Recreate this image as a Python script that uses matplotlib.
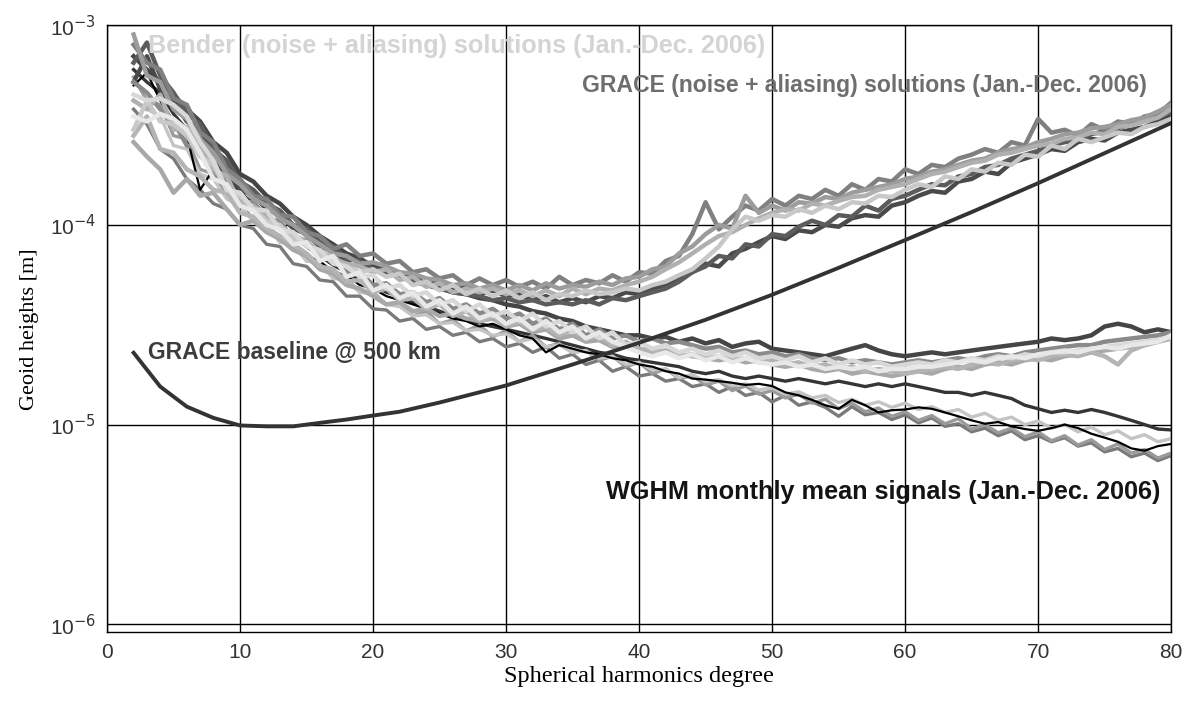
import numpy as np
import matplotlib.pyplot as plt

# spherical harmonic degrees 2..80
degree = list(range(2, 81))

# degree amplitudes in micrometres (1e-6 m)
grace_1 = [520, 700, 480, 420, 330, 300, 220, 200, 150, 140,
           120, 112, 96, 90, 78, 74, 66, 68, 60, 62,
           55, 56, 50, 52, 47, 49, 45, 47, 44, 45,
           42, 44, 41, 43, 41, 44, 43, 46, 45, 48,
           50, 55, 58, 64, 62, 72, 76, 82, 88, 85,
           94, 92, 100, 98, 108, 112, 110, 125, 130, 140,
           148, 145, 165, 170, 185, 180, 205, 215, 225, 240,
           235, 260, 270, 265, 290, 300, 310, 330, 350]
grace_2 = [800, 650, 600, 430, 400, 290, 260, 190, 170, 140,
           135, 112, 110, 92, 88, 76, 80, 70, 72, 64,
           66, 58, 60, 54, 56, 50, 54, 50, 53, 49,
           52, 48, 55, 50, 53, 51, 56, 52, 58, 57,
           66, 70, 90, 130, 95, 110, 125, 118, 135, 125,
           140, 135, 150, 140, 160, 150, 170, 165, 190, 180,
           200, 195, 215, 225, 240, 230, 260, 250, 340, 290,
           300, 280, 320, 300, 330, 320, 350, 360, 410]
grace_3 = [300, 420, 330, 320, 280, 220, 200, 150, 140, 120,
           105, 100, 85, 80, 70, 66, 62, 58, 60, 55,
           57, 50, 52, 47, 50, 45, 48, 44, 47, 43,
           46, 42, 45, 44, 47, 45, 46, 48, 47, 50,
           52, 56, 60, 68, 78, 95, 110, 105, 112, 110,
           120, 115, 125, 120, 130, 128, 140, 138, 150, 160,
           155, 175, 170, 190, 185, 205, 200, 225, 220, 250,
           240, 270, 260, 275, 290, 285, 310, 320, 340]
grace_4 = [900, 560, 520, 380, 340, 270, 230, 180, 160, 135,
           125, 108, 100, 88, 80, 72, 70, 64, 65, 62,
           58, 57, 54, 53, 50, 51, 48, 50, 47, 50,
           47, 51, 48, 50, 49, 52, 50, 54, 55, 60,
           62, 72, 78, 90, 100, 96, 140, 115, 125, 118,
           130, 128, 138, 135, 145, 150, 155, 160, 170, 175,
           185, 190, 200, 210, 215, 230, 240, 245, 260, 270,
           285, 290, 305, 310, 320, 335, 345, 370, 400]
grace_5 = [650, 820, 560, 460, 360, 320, 240, 210, 165, 150,
           128, 118, 100, 96, 82, 78, 68, 66, 60, 58,
           55, 52, 50, 48, 46, 45, 44, 42, 43, 41,
           42, 40, 41, 40, 42, 40, 43, 42, 44, 46,
           48, 52, 58, 62, 70, 68, 80, 78, 90, 88,
           98, 105, 100, 112, 110, 125, 118, 135, 140, 150,
           160, 158, 175, 180, 195, 200, 215, 225, 235, 250,
           260, 265, 285, 295, 305, 320, 335, 345, 370]
grace_6 = [420, 380, 450, 300, 310, 240, 190, 175, 130, 125,
           110, 98, 90, 82, 74, 68, 64, 62, 58, 60,
           53, 55, 49, 51, 46, 48, 46, 48, 45, 47,
           44, 47, 44, 48, 45, 48, 47, 50, 52, 55,
           60, 65, 72, 80, 88, 92, 100, 108, 115, 120,
           118, 128, 125, 132, 138, 140, 150, 155, 160, 170,
           180, 185, 195, 205, 210, 225, 230, 240, 250, 255,
           270, 275, 290, 285, 310, 315, 330, 345, 380]

bender_1 = [450, 420, 430, 400, 350, 260, 210, 150, 145, 120,
            118, 95, 92, 78, 75, 64, 62, 55, 56, 48,
            50, 44, 46, 40, 42, 37, 40, 35, 37, 33,
            36, 31, 33, 29, 31, 27, 29, 25, 26, 24,
            25, 23, 24, 22.5, 23.5, 22, 23, 21.5, 22, 21,
            22, 20.5, 21.5, 20, 21, 20, 20.5, 19.5, 20, 20.5,
            20, 21, 20.5, 21.5, 21, 22, 21.5, 22.5, 22, 23,
            23, 23.5, 24, 24.5, 25, 25.5, 26, 26.5, 27.5]
bender_2 = [700, 600, 520, 450, 380, 330, 260, 230, 180, 165,
            140, 128, 110, 100, 88, 80, 72, 68, 62, 60,
            56, 54, 50, 49, 46, 45, 43, 42, 40, 39,
            37, 36, 34, 33, 31, 30, 29, 28, 28, 27,
            27.5, 26, 27, 25.5, 26.5, 24.5, 25.5, 26, 24, 23.5,
            23, 22.5, 22, 23, 24, 25, 23.5, 22.5, 22, 22.5,
            23, 22.5, 23, 23.5, 24, 24.5, 25, 25.5, 26, 27,
            26.5, 27, 28, 31, 32, 31, 29, 30, 29]
bender_3 = [280, 350, 240, 230, 190, 175, 150, 145, 115, 110,
            96, 88, 80, 72, 62, 60, 52, 53, 46, 48,
            42, 43, 38, 40, 35, 37, 33, 35, 31, 33,
            30, 31, 28, 30, 27, 28, 25, 26, 24, 23.5,
            23, 22.5, 22, 21.5, 22, 21, 21.5, 20.5, 21, 20,
            20.5, 19.5, 20, 19, 19.5, 18.5, 19, 18.5, 18, 18.5,
            19, 19.5, 19, 20, 20.5, 20, 21, 21.5, 21, 22,
            22.5, 22, 23, 22, 20, 23.5, 25, 26, 27]
bender_4 = [350, 330, 360, 340, 300, 230, 170, 160, 125, 118,
            100, 95, 80, 82, 66, 70, 55, 58, 47, 50,
            43, 46, 39, 42, 36, 39, 34, 36, 32, 34,
            30, 33, 29, 31, 27, 29, 26, 24.5, 23, 22,
            23, 21.5, 22.5, 21, 22, 20.5, 21.5, 20.5, 20, 20.5,
            19.5, 20, 19, 19.5, 19, 19.5, 18.5, 19, 19, 19.5,
            19.5, 20, 20.5, 21, 20.5, 21.5, 22, 21.5, 22.5, 23,
            23.5, 23, 24, 24.5, 24, 25, 25.5, 26, 28]
bender_5 = [520, 460, 380, 330, 250, 240, 175, 170, 130, 130,
            108, 104, 85, 84, 68, 68, 58, 58, 50, 51,
            45, 46, 41, 43, 38, 40, 36, 38, 34, 36,
            32, 34, 30, 32, 28, 30, 27, 28, 26, 27,
            25.5, 26, 25, 24, 24.5, 23, 23.5, 22.5, 23, 22,
            22.5, 21.5, 21, 21.5, 20.5, 21, 20.5, 20, 20.5, 21,
            20.5, 21, 21.5, 21, 22, 22.5, 22, 23, 23.5, 24,
            24.5, 25, 25, 26, 26.5, 27, 27.5, 28, 29]
bender_6 = [260, 220, 190, 145, 170, 140, 145, 120, 100, 105,
            92, 85, 75, 70, 60, 57, 50, 48, 44, 40,
            41, 37, 38, 35, 36, 34, 33, 34, 31, 32,
            29, 30, 27, 28, 26, 26.5, 24.5, 25, 24, 23,
            23.5, 22, 22.5, 21.5, 21, 21.5, 20.5, 21, 20, 19.5,
            20, 19, 18.5, 19, 18, 18.5, 18, 17.5, 18, 18.5,
            18, 19, 19.5, 19, 20, 20.5, 20, 21, 21.5, 21,
            22, 22.5, 23, 23.5, 24, 24.5, 25, 26, 27]

wghm_1 = [500, 580, 420, 330, 280, 150, 190, 160, 130, 118,
          105, 95, 82, 70, 66, 58, 56, 50, 48, 44,
          42, 40, 38, 36, 34, 33, 31, 32, 30, 28,
          27, 23, 25, 24, 23, 22.5, 21.5, 21, 20, 19.5,
          18.5, 18, 17, 16.8, 16.5, 16.2, 15.8, 16, 15.6, 14.5,
          14, 13.3, 12.5, 12, 13.3, 12.5, 11.5, 11.8, 11.9, 12.2,
          12, 11.5, 11, 10.5, 10.1, 10.3, 9.8, 9.5, 9.3, 9.6,
          10, 9.6, 9, 8.6, 8.2, 7.6, 7.4, 7.8, 8]
wghm_2 = [600, 520, 460, 360, 300, 250, 210, 175, 145, 128,
          112, 100, 88, 78, 70, 63, 58, 53, 50, 46,
          44, 41, 39, 37, 35, 34, 32, 31, 30, 29,
          28, 27, 26, 25, 24, 23, 22.5, 21.5, 21, 20.5,
          20, 19.5, 18.5, 18, 18.5, 17.5, 17, 17.5, 17, 16.5,
          17, 16.5, 16, 16.5, 16, 15.5, 16, 15.5, 16, 15.5,
          15, 14.5, 14.5, 14, 14.5, 14, 13.5, 12.5, 12, 11.5,
          11.8, 11.5, 11.9, 11.5, 11, 10.5, 10, 9.5, 9.4]
wghm_3 = [380, 320, 240, 215, 170, 150, 128, 120, 100, 96,
          80, 78, 64, 62, 53, 52, 44, 44, 38, 37.5,
          33, 34, 30, 31, 28, 29, 26, 27, 24.5, 25.5,
          23, 24.5, 21.5, 22.5, 20, 21, 18.5, 19.5, 17.5, 18,
          16.5, 17, 15.5, 16, 14.5, 15.5, 14, 14.5, 13, 14,
          12.5, 13, 12.2, 11, 12.3, 11.2, 11.5, 10.6, 11.2, 10.2,
          10.8, 9.8, 10.1, 9.2, 9.6, 8.8, 9.3, 8.4, 8.8, 8.2,
          8.6, 7.8, 8.1, 7.3, 7.6, 6.9, 7.2, 6.6, 7]
wghm_4 = [420, 380, 350, 250, 240, 180, 170, 135, 125, 104,
          100, 82, 79, 66, 64, 54, 53, 46, 45, 40,
          39, 35, 35.5, 32, 32.5, 29.5, 30, 28, 28.5, 26,
          27, 24.5, 25, 23, 23.5, 21.5, 22, 20, 20.5, 18.8,
          19, 17.2, 17.8, 16.4, 16.8, 15.6, 16, 14.9, 15.3, 14.2,
          14.6, 13.6, 14, 12.9, 13.4, 12.5, 13, 12.2, 12.8, 11.9,
          12.3, 11.5, 11.9, 10.9, 11.4, 10.5, 10.9, 10, 10.4, 9.6,
          10, 9.2, 9.7, 8.9, 9.3, 8.5, 8.9, 8.2, 8.5]
wghm_5 = [550, 420, 400, 280, 270, 190, 180, 140, 132, 105,
          104, 82, 82, 66, 66, 54, 54, 46, 46, 40,
          41, 35, 37, 32, 33.5, 29.5, 31.5, 27.5, 29.5, 26,
          28, 24.5, 25.5, 23, 23.5, 21, 22, 19.5, 20.5, 18,
          19, 17, 17.6, 15.8, 16.5, 14.8, 15.6, 14.2, 14.8, 13.6,
          14.2, 12.8, 13.4, 12, 12.8, 11.6, 12.1, 11, 11.6, 10.5,
          11.1, 10.1, 10.7, 9.5, 10, 9.1, 9.6, 8.7, 9.2, 8.3,
          8.8, 7.9, 8.4, 7.5, 8, 7.2, 7.5, 6.8, 7.2]

baseline_deg = [2, 4, 6, 8, 10, 12, 14, 16, 18, 20, 22, 25, 30, 35, 40,
                45, 50, 55, 60, 65, 70, 75, 80]
baseline_um = [22.9, 15.5, 12.3, 10.8, 9.9, 9.8, 9.8, 10.2, 10.6, 11.1, 11.6,
               12.9, 15.7, 20.0, 25.7, 33.5, 44.7, 61, 84, 116, 162, 229, 324]

um = 1e-6

fig = plt.figure(figsize=(11.89, 7.04), dpi=100)
ax = fig.add_axes([0.090, 0.102, 0.895, 0.862])

# WGHM signal lines, thinner, drawn underneath the noise bundle
signal = [(wghm_2, '#353535'), (wghm_3, '#7a7a7a'), (wghm_5, '#9a9a9a'),
          (wghm_4, '#c4c4c4'), (wghm_1, '#000000')]
for vals, col in signal:
    lw = 1.6 if col == '#000000' else 2.4
    ax.plot(degree, np.array(vals) * um, color=col, lw=lw, zorder=2.5)

# noise lines (GRACE + Bender), thick grey lines
noise = [
    (grace_1, '#4a4a4a'), (bender_2, '#454545'), (grace_5, '#5c5c5c'),
    (grace_2, '#808080'), (bender_5, '#8a8a8a'), (grace_4, '#9c9c9c'),
    (bender_6, '#a8a8a8'), (grace_6, '#b0b0b0'), (bender_3, '#b4b4b4'),
    (grace_3, '#c8c8c8'), (bender_1, '#d8d8d8'), (bender_4, '#e8e8e8'),
]
for vals, col in noise:
    ax.plot(degree, np.array(vals) * um, color=col, lw=3.2, zorder=3)

ax.plot(baseline_deg, np.array(baseline_um) * um, color='#333333', lw=2.8, zorder=5)

ax.set_yscale('log')
ax.set_xlim(0, 80)
ax.set_ylim(10 ** -6.04, 1e-3)
ax.set_xticks(range(0, 81, 10))
ax.set_yticks([1e-6, 1e-5, 1e-4, 1e-3])
ax.set_yticklabels([r'10$^{-6}$', r'10$^{-5}$', r'10$^{-4}$', r'10$^{-3}$'])
ax.minorticks_off()
ax.tick_params(length=0, labelsize=15, pad=8)
for lab in ax.get_xticklabels() + ax.get_yticklabels():
    lab.set_family(['Liberation Sans Narrow', 'Liberation Sans', 'DejaVu Sans'])
    lab.set_color('#333333')
ax.grid(True, color='black', lw=1.0, zorder=1)
for sp in ax.spines.values():
    sp.set_color('black')
    sp.set_linewidth(1.0)

ax.set_xlabel('Spherical harmonics degree', family='Liberation Serif', fontsize=17.5, labelpad=3)
ax.set_ylabel('Geoid heights [m]', family='Liberation Serif', fontsize=16, labelpad=8)

lab_kw = dict(family='Liberation Sans', fontweight='bold', va='center', ha='left', zorder=6)
ax.text(3.1, 7.9e-4, 'Bender (noise + aliasing) solutions (Jan.-Dec. 2006)',
        color='#d4d4d4', fontsize=18.2, **lab_kw)
ax.text(35.7, 5.0e-4, 'GRACE (noise + aliasing) solutions (Jan.-Dec. 2006)',
        color='#6e6e6e', fontsize=16.6, **lab_kw)
ax.text(3.1, 2.3e-5, 'GRACE baseline @ 500 km', color='#3c3c3c', fontsize=16.5, **lab_kw)
ax.text(37.5, 4.6e-6, 'WGHM monthly mean signals (Jan.-Dec. 2006)',
        color='#141414', fontsize=18.2, **lab_kw)

fig.savefig('out.png', dpi=100)
